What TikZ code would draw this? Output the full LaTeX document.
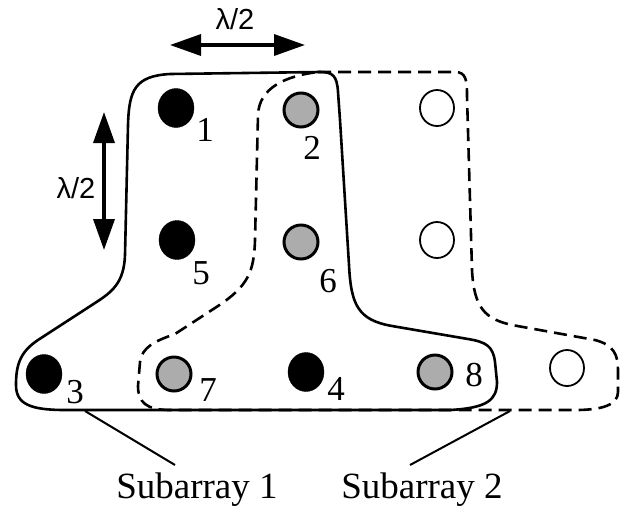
\documentclass[tikz,border=0pt]{standalone}
\usepackage{fontspec}
\setmainfont{Liberation Serif}
\newfontfamily\lamfont{Liberation Sans}
\usetikzlibrary{arrows.meta}
\tikzset{
  blackel/.style={ellipse,fill=black,draw=black,minimum width=36pt,minimum height=39pt,inner sep=0pt},
  grayel/.style={circle,fill=gray!65,draw=black,line width=3pt,minimum size=34pt,inner sep=0pt},
  openel/.style={ellipse,fill=white,draw=black,line width=1.8pt,minimum width=34pt,minimum height=36pt,inner sep=0pt},
  num/.style={font=\fontsize{35}{35}\selectfont,inner sep=0pt},
  lam/.style={font=\lamfont\fontsize{29}{29}\selectfont,inner sep=0pt},
  sublabel/.style={font=\fontsize{37}{37}\selectfont,inner sep=0pt},
  contour/.style={line width=2.6pt,line join=round},
  dcontour/.style={line width=2.6pt,dash pattern=on 13pt off 7pt,line join=round},
  dblarrow/.style={line width=3.5pt,{Triangle[length=31pt,width=21pt]}-{Triangle[length=31pt,width=21pt]}},
  leader/.style={line width=2pt}
}
\usetikzlibrary{shapes.geometric}
\begin{document}
\begin{tikzpicture}[x=1pt,y=-1pt]
\useasboundingbox (0,0) rectangle (620,512);
% contours
\draw[contour] (340,120) -- (338,92) .. controls (337,76) and (333,72) .. (320,72)
  -- (170,74) .. controls (135,76) and (129,90) .. (128,125)
  -- (125,255) .. controls (124,283) and (112,292) .. (95,303)
  -- (38,340) .. controls (20,352) and (16,365) .. (16,385)
  .. controls (16,404) and (30,410) .. (65,410)
  -- (450,410) .. controls (487,408) and (497,400) .. (497,382)
  -- (495,362) .. controls (493,346) and (486,342) .. (468,339)
  -- (392,326) .. controls (358,320) and (351,305) .. (349,265) -- cycle;
\draw[dcontour] (318,72) -- (455,72) .. controls (466,72) and (467,80) .. (467,96)
  -- (472,270) .. controls (474,308) and (485,319) .. (512,325)
  -- (595,340) .. controls (614,345) and (618,355) .. (618,370)
  -- (618,392) .. controls (618,405) and (602,410) .. (575,410)
  -- (170,410) .. controls (146,410) and (138,402) .. (138,386)
  -- (140,362) .. controls (142,347) and (155,341) .. (175,334)
  -- (218,306) .. controls (248,286) and (254,272) .. (255,240)
  -- (258,115) .. controls (259,88) and (285,76) .. (318,72);
% elements
\node[blackel] (e1) at (176,108) {};
\node[grayel]  (e2) at (301,110) {};
\node[openel]  (o1) at (437,108) {};
\node[blackel] (e5) at (177,240) {};
\node[grayel]  (e6) at (301,242) {};
\node[openel]  (o2) at (437,240) {};
\node[blackel] (e3) at (44,374) {};
\node[grayel]  (e7) at (174,374) {};
\node[blackel] (e4) at (306,372) {};
\node[grayel]  (e8) at (435,372) {};
\node[openel]  (o3) at (567,368) {};
% numbers
\node[num] (n1) at (205,130) {1};
\node[num] (n2) at (312,148) {2};
\node[num] (n5) at (201,273) {5};
\node[num] (n6) at (328,281) {6};
\node[num] (n3) at (75,392) {3};
\node[num] (n7) at (208,390) {7};
\node[num] (n4) at (336,389) {4};
\node[num] (n8) at (474,375) {8};
% spacing arrows
\coordinate (ha) at (170,45);
\coordinate (hb) at (305,45);
\draw[dblarrow] (ha) -- (hb);
\node[lam] (lh) at (235,19) {λ/2};
\coordinate (va) at (104,112);
\coordinate (vb) at (104,250);
\draw[dblarrow] (va) -- (vb);
\node[lam] (lv) at (76,188) {λ/2};
% subarray labels
\node[sublabel] (s1) at (197,490) {Subarray 1};
\node[sublabel] (s2) at (422,490) {Subarray 2};
\coordinate (c1) at (85,411);
\coordinate (c2) at (510,411);
\draw[leader] (c1) -- (175,465);
\draw[leader] (c2) -- (410,465);
\end{tikzpicture}
\end{document}
